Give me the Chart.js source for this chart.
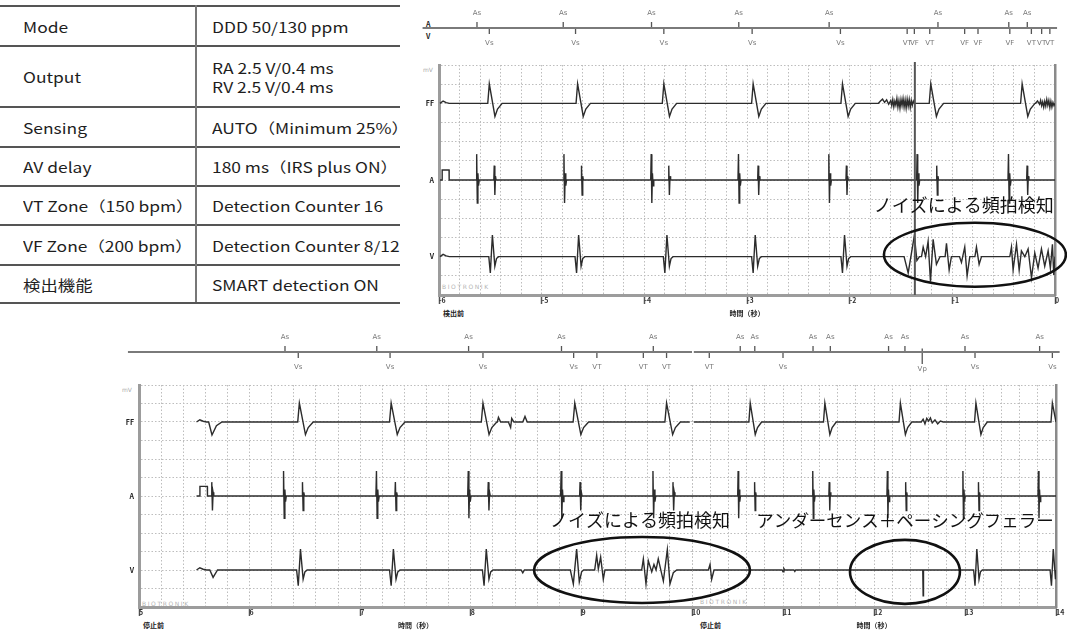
<!DOCTYPE html>
<html lang="ja">
<head>
<meta charset="utf-8">
<title>ノイズによる頻拍検知</title>
<script src="https://cdn.jsdelivr.net/npm/chart.js@4.4.1/dist/chart.umd.min.js"></script>
<style>
  html, body { margin: 0; padding: 0; background: #fff; }
  body { position: relative; width: 1067px; height: 632px; overflow: hidden;
         font-family: "Noto Sans CJK JP", "Noto Sans", sans-serif; color: #222; }
  canvas { position: absolute; }
  .row { position: absolute; left: 0; width: 400px; display: flex; align-items: center;
         border-top: 2px solid #555; box-sizing: border-box; font-size: 14.5px; color: #1e1e1e; }
  .row.last { border-bottom: 2px solid #555; }
  .row .k, .row .v { transform: scaleX(1.2); transform-origin: 0 50%; }
  .row .k { position: absolute; left: 23px; }
  .row .v { position: absolute; left: 212px; line-height: 19px; white-space: pre; }
  .divider { position: absolute; left: 195px; top: 5px; width: 2px; height: 297px; background: #777; }
  .tiny { position: absolute; font-size: 7px; font-weight: bold; color: #222; white-space: nowrap; }
  .unit { position: absolute; font-size: 6px; color: #aaa; font-family: "DejaVu Sans", sans-serif; }
  .wm { position: absolute; font-size: 6px; letter-spacing: 1.6px; color: #b4b4b4; font-family: "DejaVu Sans", sans-serif; }
</style>
</head>
<body>
<div id="params"></div>
<div class="divider"></div>

<div class="tiny" style="left:426px;top:19px;">A</div>
<div class="tiny" style="left:426px;top:31px;">V</div>
<div class="unit" style="left:423px;top:66px;">mV</div>
<div class="unit" style="left:122px;top:386px;">mV</div>
<div class="wm" style="left:442px;top:283px;">BIOTRONIK</div>
<div class="wm" style="left:142px;top:600px;">BIOTRONIK</div>
<div class="wm" style="left:700px;top:598px;">BIOTRONIK</div>
<div class="tiny" style="left:443px;top:308px;">検出前</div>
<div class="tiny" style="left:143px;top:620px;">停止前</div>
<div class="tiny" style="left:700px;top:620px;">停止前</div>

<canvas id="topMarks" width="667" height="58" style="left:400px;top:0;"></canvas>
<canvas id="topEcg" width="667" height="270" style="left:400px;top:55px;"></canvas>
<canvas id="brMarks" width="375" height="64" style="left:692px;top:320px;"></canvas>
<canvas id="blMarks" width="967" height="64" style="left:100px;top:320px;"></canvas>
<canvas id="brEcg" width="375" height="262" style="left:692px;top:370px;"></canvas>
<canvas id="blEcg" width="967" height="262" style="left:100px;top:370px;"></canvas>

<script>
// ─── Settings table ──────────────────────────────────────────────
const PARAM_NAMES = ['Mode', 'Output', 'Sensing', 'AV delay', 'VT Zone（150 bpm）', 'VF Zone（200 bpm）', '検出機能'];
const PARAM_VALUES = ['DDD 50/130 ppm', 'RA 2.5 V/0.4 ms\nRV 2.5 V/0.4 ms', 'AUTO（Minimum 25%）',
  '180 ms（IRS plus ON）', 'Detection Counter 16', 'Detection Counter 8/12', 'SMART detection ON'];
const ROW_LINES = [5, 45, 106, 146, 185, 224, 264, 302];

// ─── Complex shapes (offset s, amplitude in grid units) ──────────
const FF_T = [-0.015, 0, 0.055, 0.08, 0.125];
const FF_V = [0, 1.02, -0.68, -0.3, 0];
const ABIG_T = [-0.008, -0.003, 0.003, 0.009, 0.015, 0.022];
const ABIG_V = [0, 1.35, -1.2, 0.35, -0.3, 0];
const ASM_T = [-0.006, -0.002, 0.004, 0.01, 0.016];
const ASM_V = [0, 0.75, -0.78, 0.2, 0];
const V_T = [-0.035, -0.02, 0, 0.024, 0.04, 0.06];
const V_V = [0, -0.85, 1.13, -0.5, -0.1, 0];
const START_T = [0, 0.03, 0.06, 0.09];
const START_V = [0, 0.12, 0.04, 0];
const PULSE_T = [0, 0.001, 0.068, 0.069];
const PULSE_V = [0, 0.52, 0.52, 0];

// ─── Top strip: -6 … 0 s (detection) ─────────────────────────────
const TOP_START = -5.99;
const TOP_FF_BEATS = [-5.51, -4.65, -3.81, -2.94, -2.07, -1.21, -0.32];
const TOP_FF_NOISE_T = [-1.72, -1.70, -1.68, -1.66, -1.64, -1.62, -1.60, -1.59, -1.58, -1.57, -1.56, -1.55, -1.54, -1.53,
  -1.52, -1.51, -1.50, -1.49, -1.48, -1.47, -1.46, -1.45, -1.44, -1.43, -1.42, -1.41, -1.40, -1.39, -1.38, -1.37,
  -0.19, -0.17, -0.15, -0.14, -0.13, -0.12, -0.11, -0.10, -0.09, -0.08, -0.07, -0.06, -0.05, -0.04, -0.03, -0.02, -0.01];
const TOP_FF_NOISE = [0, 0.12, 0.22, 0.05, 0.18, -0.05, 0.15, -0.12, 0.2, -0.18, 0.12, -0.1, 0.25, -0.2,
  0.15, -0.25, 0.2, -0.12, 0.25, -0.2, 0.18, -0.25, 0.22, -0.15, 0.2, -0.22, 0.15, -0.1, 0.12, 0,
  0, 0.12, -0.05, 0.15, -0.12, 0.08, -0.2, 0.1, -0.15, 0.2, -0.1, 0.15, -0.22, 0.1, -0.2, 0.05, -0.12];
const TOP_A_PULSE = -5.97;
const TOP_A_BIG = [-5.63, -4.78, -3.93, -3.08, -2.20, -1.34, -0.45];
const TOP_A_SMALL = [-5.46, -4.61, -3.76, -2.89, -2.03, -1.15, -0.27];
const TOP_V_BEATS = [-5.48, -4.64, -3.78, -2.92, -2.05];
const TOP_V_NOISE_T = [-1.47, -1.43, -1.37, -1.345, -1.32, -1.30, -1.284, -1.26, -1.236, -1.213, -1.187, -1.155,
  -1.12, -1.07, -1.057, -1.031, -1.009, -0.93, -0.911, -0.879, -0.856, -0.83, -0.78, -0.765, -0.739, -0.716,
  -0.44, -0.424, -0.408, -0.375, -0.349, -0.327, -0.294, -0.262, -0.229, -0.197, -0.165, -0.132, -0.100,
  -0.067, -0.045, -0.025, -0.012];
const TOP_V_NOISE = [0, -0.85, 1.1, -0.2, 0, 0, 0.5, 0, 0.8, -1.3, 0.9, -0.4,
  0, 0, 0.7, -0.7, 0, 0, -0.3, 0.5, -1.0, 0, 0, 0.5, -0.4, 0,
  0, 0.5, -0.7, 0.65, -0.7, 0.3, 0, 0.4, -1.1, 0.2, -0.6, 0.4, -0.5,
  0.3, -0.6, 0.65, -0.95];
const TOP_A_MARKS = [-5.63, -4.79, -3.93, -3.08, -2.20, -1.14, -0.45, -0.27];
const TOP_A_LABELS = ['As', 'As', 'As', 'As', 'As', 'As', 'As', 'As'];
const TOP_V_MARKS = [-5.51, -4.67, -3.81, -2.95, -2.09, -1.44, -1.37, -1.22, -0.88, -0.75, -0.44, -0.23, -0.13, -0.05];
const TOP_V_LABELS = ['Vs', 'Vs', 'Vs', 'Vs', 'Vs', 'VT', 'VF', 'VT', 'VF', 'VF', 'VF', 'VT', 'VT', 'VT'];

// ─── Bottom strip, left part: 5 … 10 s ───────────────────────────
const BL_START = 5.52;
const BL_FF_BEATS = [6.45, 7.28, 8.11, 8.94, 9.77];
const BL_FF_EXTRA_T = [5.63, 5.66, 5.70, 5.75, 8.24, 8.25, 8.27, 8.34, 8.36, 8.37, 8.39, 8.47, 8.49, 8.51];
const BL_FF_EXTRA = [0, -0.7, -0.2, 0, 0, 0.25, 0, 0, -0.3, 0.2, 0, 0, 0.3, 0];
const BL_A_PULSE = 5.55;
const BL_A_BIG = [6.31, 7.15, 7.98, 8.82, 9.65];
const BL_A_SMALL = [5.66, 6.48, 7.32, 8.16, 8.99, 9.83];
const BL_V_BEATS = [6.46, 7.30, 8.14];
const BL_V_EXTRA_T = [5.64, 5.67, 5.71, 8.455, 8.47, 8.485,
  8.90, 8.927, 8.957, 8.981, 9.002, 9.02, 9.12, 9.138, 9.153, 9.174, 9.198, 9.213,
  9.545, 9.560, 9.584, 9.605, 9.636, 9.656, 9.675, 9.695, 9.741, 9.777, 9.801, 9.831, 9.862];
const BL_V_EXTRA = [0, -0.4, 0, 0, -0.15, 0,
  0, -0.75, 1.13, -0.65, -0.1, 0, 0, 0.8, 0.05, 0.7, -0.5, 0,
  0, 0.6, -0.75, 0.5, -0.1, 0.3, 0, 0.6, -0.6, 1.1, -0.75, -0.15, 0];
const BL_A_MARKS = [6.32, 7.15, 7.98, 8.82, 9.65];
const BL_A_LABELS = ['As', 'As', 'As', 'As', 'As'];
const BL_V_MARKS = [6.44, 7.27, 8.11, 8.93, 9.14, 9.56, 9.77];
const BL_V_LABELS = ['Vs', 'Vs', 'Vs', 'Vs', 'VT', 'VT', 'VT'];

// ─── Bottom strip, right part: 10 … 14 s ─────────────────────────
const BR_FF_BEATS = [10.64, 11.46, 12.29, 13.12, 13.96];
const BR_FF_NOISE_T = [12.52, 12.54, 12.56, 12.58, 12.60, 12.62, 12.64, 12.67, 12.70, 12.73, 12.76];
const BR_FF_NOISE = [0, 0.15, -0.1, 0.2, 0.05, 0.22, -0.05, 0.12, -0.1, 0.05, 0];
const BR_A_BIG = [10.51, 11.33, 12.15, 12.98, 13.81];
const BR_A_SMALL = [10.69, 11.51, 12.35, 13.15];
const BR_V_BEATS = [13.13, 13.97];
const BR_V_EXTRA_T = [10.18, 10.198, 10.216, 10.242, 10.99, 11.0, 11.01, 11.02, 11.12, 11.13, 11.14, 12.536, 12.54, 12.544];
const BR_V_EXTRA = [0, 0.3, -0.5, 0, 0, -0.1, 0.08, 0, 0, -0.08, 0, 0, -1.4, 0];
const BR_A_MARKS = [10.53, 10.69, 11.33, 11.52, 12.16, 12.34, 13.00, 13.82];
const BR_A_LABELS = ['As', 'As', 'As', 'As', 'As', 'As', 'As', 'As'];
const BR_V_MARKS = [10.19, 11.00, 13.11, 13.96];
const BR_V_LABELS = ['VT', 'Vs', 'Vs', 'Vs'];
const BR_VP_MARKS = [12.53];
const BR_VP_LABELS = ['Vp'];

const CHANNEL_LABELS = { 10: 'FF', 6: 'A', 2: 'V' };

// ─── Table ────────────────────────────────────────────────────────
const params = document.getElementById('params');
PARAM_NAMES.forEach((name, i) => {
  const row = document.createElement('div');
  row.className = 'row' + (i === PARAM_NAMES.length - 1 ? ' last' : '');
  row.style.top = ROW_LINES[i] + 'px';
  row.style.height = (ROW_LINES[i + 1] - ROW_LINES[i] + (i === PARAM_NAMES.length - 1 ? 2 : 0)) + 'px';
  row.innerHTML = `<span class="k">${name}</span><span class="v">${PARAM_VALUES[i]}</span>`;
  params.appendChild(row);
});

// ─── Trace helpers ────────────────────────────────────────────────
const place = (times, st, sv) => times.flatMap(t => st.map((d, i) => [t + d, sv[i]]));
const pairs = (ts, vs) => ts.map((t, i) => [t, vs[i]]);
function trace(base, from, to, ...parts) {
  const pts = [[from, 0], ...parts.flat(), [to, 0]];
  pts.sort((a, b) => a[0] - b[0]);
  return pts.map(p => ({ x: p[0], y: base + p[1] }));
}
const isWhole = v => Math.abs(v - Math.round(v)) < 1e-6;

Chart.defaults.font.family = '"Noto Sans CJK JP", "Noto Sans", sans-serif';

const GRID = '#bdbdbd';
const AXIS = '#9c9c9c';
const INK = '#2c2c2c';

function notes(cfg) {
  return {
    id: 'notes',
    afterDatasetsDraw(chart) {
      const { ctx, chartArea, scales: { x, y } } = chart;
      ctx.save();
      (cfg.vlines || []).forEach(t => {
        const px = x.getPixelForValue(t);
        ctx.strokeStyle = '#555'; ctx.lineWidth = 2;
        ctx.beginPath(); ctx.moveTo(px, chartArea.top - 3); ctx.lineTo(px, chartArea.bottom); ctx.stroke();
      });
      (cfg.ellipses || []).forEach(e => {
        const cx = x.getPixelForValue(e.t), cy = y.getPixelForValue(e.level);
        const rx = Math.abs(x.getPixelForValue(e.t + e.dt) - cx);
        const ry = Math.abs(y.getPixelForValue(e.level + e.dl) - cy);
        ctx.strokeStyle = '#111'; ctx.lineWidth = 2.6;
        ctx.beginPath(); ctx.ellipse(cx, cy, rx, ry, 0, 0, Math.PI * 2); ctx.stroke();
      });
      (cfg.texts || []).forEach(tx => {
        ctx.font = `${tx.size}px "Noto Sans CJK JP"`;
        ctx.fillStyle = '#111'; ctx.textAlign = 'center'; ctx.textBaseline = 'middle';
        ctx.fillText(tx.text, x.getPixelForValue(tx.t), y.getPixelForValue(tx.level));
      });
      ctx.restore();
    }
  };
}

function ecgChart(id, o) {
  return new Chart(document.getElementById(id), {
    type: 'line',
    data: {
      datasets: o.traces.map(d => ({
        data: d, borderColor: INK, borderWidth: 1.4, pointRadius: 0, tension: 0
      }))
    },
    options: {
      responsive: false, animation: false, events: [],
      layout: { padding: o.pad },
      plugins: { legend: { display: false }, tooltip: { enabled: false } },
      scales: {
        x: {
          type: 'linear', min: o.min, max: o.max,
          afterFit: s => { s.height = o.xh; },
          grid: {
            color: GRID, lineWidth: 1, tickLength: 9, tickWidth: 1.5,
            tickColor: c => isWhole(c.tick.value) && o.showTick(c.tick.value) ? '#555' : 'rgba(0,0,0,0)'
          },
          border: { color: AXIS, width: 3, dash: [1.5, 2] },
          ticks: {
            stepSize: 0.2, autoSkip: false, maxRotation: 0, align: 'start', padding: -8,
            color: '#333', font: { size: 7, weight: 'bold' },
            callback: v => isWhole(v) && o.showTick(v) ? String(Math.round(v)) : ''
          },
          title: {
            display: true, text: '時間（秒）', color: '#222',
            font: { size: 7, weight: 'bold' }, padding: { top: 0, bottom: o.titlePad }
          }
        },
        y: {
          min: 0, max: 12,
          afterFit: s => { s.width = o.yw; },
          grid: { color: GRID, drawTicks: false },
          border: { display: o.yw > 0, color: AXIS, width: 3, dash: [1.5, 2] },
          ticks: {
            display: o.yw > 0, stepSize: 1, padding: 5, color: '#222',
            font: { size: 7, weight: 'bold' },
            callback: v => CHANNEL_LABELS[v] || ''
          }
        },
        y2: {
          position: 'right', min: 0, max: 12,
          afterFit: s => { s.width = 0; },
          grid: { display: false }, ticks: { display: false },
          border: { display: o.rightEdge, color: '#8a8a8a', width: 2.5 }
        }
      }
    },
    plugins: [notes(o.notes || {})]
  });
}

function markLabels(o) {
  return {
    id: 'markLabels',
    afterDatasetsDraw(chart) {
      const { ctx, scales: { x, y } } = chart;
      ctx.save();
      ctx.font = '7px "DejaVu Sans"';
      ctx.fillStyle = '#777'; ctx.textAlign = 'center'; ctx.textBaseline = 'middle';
      o.aTimes.forEach((t, i) => ctx.fillText(o.aLabels[i], x.getPixelForValue(t), y.getPixelForValue(0.62)));
      o.vTimes.forEach((t, i) => ctx.fillText(o.vLabels[i], x.getPixelForValue(t), y.getPixelForValue(-0.62)));
      (o.vpTimes || []).forEach((t, i) => ctx.fillText(o.vpLabels[i], x.getPixelForValue(t), y.getPixelForValue(-0.72)));
      ctx.restore();
    }
  };
}

function markerChart(id, o) {
  const ticks = (times, lo, hi) => times.flatMap(t => [{ x: t, y: lo }, { x: t, y: hi }, { x: t, y: null }]);
  const line = (data, w, c) => ({ data, borderColor: c, borderWidth: w, pointRadius: 0, clip: false, spanGaps: false });
  return new Chart(document.getElementById(id), {
    type: 'line',
    data: {
      datasets: [
        line([{ x: o.lineFrom, y: 0 }, { x: o.lineTo, y: 0 }], 2, '#7a7a7a'),
        line(ticks(o.aTimes, 0, 0.25), 1.3, '#555'),
        line(ticks(o.vTimes, 0, -0.25), 1.3, '#555'),
        line(ticks(o.vpTimes || [], 0.15, -0.5), 1.3, '#555')
      ]
    },
    options: {
      responsive: false, animation: false, events: [],
      layout: { padding: o.pad },
      plugins: { legend: { display: false }, tooltip: { enabled: false } },
      scales: {
        x: { type: 'linear', display: false, min: o.min, max: o.max },
        y: { display: false, min: -1, max: 1 }
      }
    },
    plugins: [markLabels(o)]
  });
}

// ─── Top strip ────────────────────────────────────────────────────
markerChart('topMarks', {
  min: -6, max: 0, lineFrom: -6.16, lineTo: 0.02,
  pad: { left: 39, right: 12, top: 4, bottom: 6 },
  aTimes: TOP_A_MARKS, aLabels: TOP_A_LABELS, vTimes: TOP_V_MARKS, vLabels: TOP_V_LABELS
});

ecgChart('topEcg', {
  min: -6, max: 0, yw: 39, xh: 30, titlePad: 7, rightEdge: true,
  pad: { top: 10, right: 12, left: 0, bottom: 0 },
  showTick: () => true,
  traces: [
    trace(10, TOP_START, 0, place([TOP_START], START_T, START_V), place(TOP_FF_BEATS, FF_T, FF_V),
      pairs(TOP_FF_NOISE_T, TOP_FF_NOISE)),
    trace(6, TOP_START, 0, place([TOP_A_PULSE], PULSE_T, PULSE_V), place(TOP_A_BIG, ABIG_T, ABIG_V),
      place(TOP_A_SMALL, ASM_T, ASM_V)),
    trace(2, TOP_START, 0, place([TOP_START], START_T, START_V), place(TOP_V_BEATS, V_T, V_V),
      pairs(TOP_V_NOISE_T, TOP_V_NOISE))
  ],
  notes: {
    vlines: [-1.365],
    ellipses: [{ t: -0.78, level: 2.1, dt: 0.886, dl: 1.67 }],
    texts: [{ text: 'ノイズによる頻拍検知', t: -0.89, level: 4.7, size: 18 }]
  }
});

// ─── Bottom strip ─────────────────────────────────────────────────
markerChart('brMarks', {
  min: 10, max: 14, lineFrom: 10.02, lineTo: 14.04,
  pad: { left: 0, right: 11, top: 8, bottom: 8 },
  aTimes: BR_A_MARKS, aLabels: BR_A_LABELS, vTimes: BR_V_MARKS, vLabels: BR_V_LABELS,
  vpTimes: BR_VP_MARKS, vpLabels: BR_VP_LABELS
});

markerChart('blMarks', {
  min: 5, max: 10, lineFrom: 4.9, lineTo: 10,
  pad: { left: 39, right: 375, top: 8, bottom: 8 },
  aTimes: BL_A_MARKS, aLabels: BL_A_LABELS, vTimes: BL_V_MARKS, vLabels: BL_V_LABELS
});

ecgChart('brEcg', {
  min: 10, max: 14, yw: 0, xh: 25, titlePad: 2, rightEdge: true,
  pad: { top: 15, right: 11, left: 0, bottom: 0 },
  showTick: v => v > 10.5,
  traces: [
    trace(10, 10.02, 14, place(BR_FF_BEATS, FF_T, FF_V), pairs(BR_FF_NOISE_T, BR_FF_NOISE)),
    trace(6, 10, 14, place(BR_A_BIG, ABIG_T, ABIG_V), place(BR_A_SMALL, ASM_T, ASM_V)),
    trace(2, 10, 14, place(BR_V_BEATS, V_T, V_V), pairs(BR_V_EXTRA_T, BR_V_EXTRA))
  ],
  notes: {
    ellipses: [{ t: 12.34, level: 1.9, dt: 0.604, dl: 1.73 }],
    texts: [{ text: 'アンダーセンス＋ペーシングフェラー', t: 12.34, level: 4.7, size: 17.5 }]
  }
});

ecgChart('blEcg', {
  min: 5, max: 10, yw: 39, xh: 25, titlePad: 2, rightEdge: false,
  pad: { top: 15, right: 375, left: 0, bottom: 0 },
  showTick: () => true,
  traces: [
    trace(10, BL_START, 9.98, place([BL_START], START_T, START_V), place(BL_FF_BEATS, FF_T, FF_V),
      pairs(BL_FF_EXTRA_T, BL_FF_EXTRA)),
    trace(6, BL_START, 10, place([BL_A_PULSE], PULSE_T, PULSE_V), place(BL_A_BIG, ABIG_T, ABIG_V),
      place(BL_A_SMALL, ASM_T, ASM_V)),
    trace(2, BL_START, 10, place([BL_START], START_T, START_V), place(BL_V_BEATS, V_T, V_V),
      pairs(BL_V_EXTRA_T, BL_V_EXTRA))
  ],
  notes: {
    ellipses: [{ t: 9.548, level: 2.0, dt: 0.976, dl: 1.78 }],
    texts: [{ text: 'ノイズによる頻拍検知', t: 9.53, level: 4.7, size: 18 }]
  }
});
</script>
</body>
</html>
